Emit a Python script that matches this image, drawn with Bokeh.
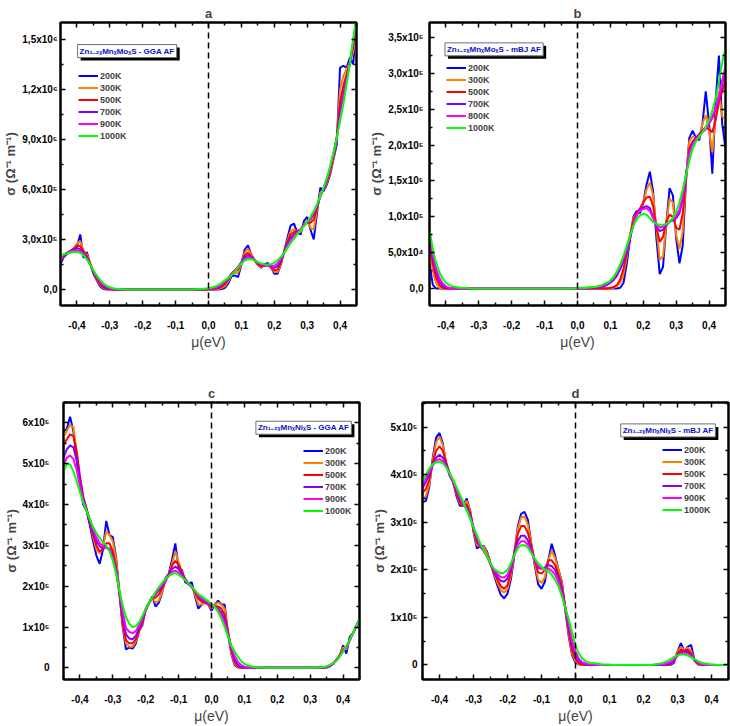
from bokeh.plotting import figure
from bokeh.layouts import column, row
from bokeh.models import (Range1d, FixedTicker, CustomJSTickFormatter, LinearAxis,
                          Span, Label, Legend, LegendItem, ColumnDataSource)
from bokeh.embed import file_html
from bokeh.resources import INLINE

# chemical potential grid (eV), shared by every curve
MU = [round(-0.45 + 0.01 * i, 2) for i in range(91)]

TEMPS_1 = ["200K", "300K", "500K", "700K", "900K", "1000K"]
TEMPS_2 = ["200K", "300K", "500K", "700K", "800K", "1000K"]
COLORS = ["#0000FF", "#FF8000", "#FF0000", "#8000FF", "#FF00FF", "#00FF00"]

UNIT = 1e5  # sigma values below are in units of 1e5 (Ohm m)^-1

# ---------------- Zn(1-2x)Mn(x)Mo(x)S, GGA AF ----------------
A_200 = [
    1.55, 1.95, 2.15, 2.25, 2.30, 2.55, 3.30, 1.90, 2.25, 1.55,
    0.95, 0.55, 0.20, 0.04, 0, 0, 0, 0, 0, 0,
    0, 0, 0, 0, 0, 0, 0, 0, 0, 0,
    0, 0, 0, 0, 0, 0, 0, 0, 0, 0,
    0, 0, 0, 0, 0, 0, 0, 0, 0, 0.03,
    0.10, 0.35, 0.80, 0.85, 0.75, 1.50, 2.40, 2.65, 2.10, 1.75,
    1.50, 1.30, 1.50, 1.60, 1.35, 0.95, 0.95, 1.50, 2.30, 3.10,
    3.85, 3.95, 3.40, 3.30, 4.10, 4.35, 3.60, 3.00, 4.60, 6.10,
    5.90, 6.30, 6.90, 7.80, 8.70, 13.3, 13.4, 13.3, 13.9, 13.5,
    16.0]
A_300 = [
    1.75, 2.05, 2.20, 2.30, 2.45, 2.75, 2.90, 2.30, 2.10, 1.60,
    1.05, 0.60, 0.28, 0.10, 0.03, 0.01, 0, 0, 0, 0,
    0, 0, 0, 0, 0, 0, 0, 0, 0, 0,
    0, 0, 0, 0, 0, 0, 0, 0, 0, 0,
    0, 0, 0, 0, 0, 0, 0, 0.01, 0.03, 0.10,
    0.20, 0.50, 0.90, 1.00, 1.00, 1.55, 2.20, 2.45, 2.10, 1.75,
    1.50, 1.35, 1.45, 1.50, 1.35, 1.05, 1.05, 1.55, 2.25, 2.95,
    3.50, 3.60, 3.45, 3.45, 3.90, 4.10, 3.70, 3.60, 4.80, 5.80,
    6.00, 6.40, 7.00, 7.90, 9.00, 12.0, 12.8, 13.2, 13.6, 14.2,
    16.1]
A_500 = [
    1.85, 2.05, 2.20, 2.32, 2.45, 2.62, 2.60, 2.30, 2.00, 1.55,
    1.05, 0.65, 0.33, 0.14, 0.05, 0.02, 0.01, 0, 0, 0,
    0, 0, 0, 0, 0, 0, 0, 0, 0, 0,
    0, 0, 0, 0, 0, 0, 0, 0, 0, 0,
    0, 0, 0, 0, 0, 0.01, 0.02, 0.04, 0.08, 0.17,
    0.32, 0.62, 0.95, 1.10, 1.20, 1.60, 2.05, 2.20, 2.00, 1.75,
    1.52, 1.40, 1.42, 1.45, 1.35, 1.15, 1.20, 1.62, 2.25, 2.85,
    3.30, 3.45, 3.50, 3.60, 3.85, 4.00, 4.00, 4.20, 4.90, 5.60,
    6.00, 6.50, 7.10, 8.00, 9.10, 11.2, 12.2, 12.9, 13.6, 14.6,
    16.1]
A_700 = [
    1.92, 2.08, 2.20, 2.30, 2.40, 2.48, 2.42, 2.20, 1.90, 1.52,
    1.10, 0.72, 0.42, 0.22, 0.10, 0.05, 0.02, 0.01, 0, 0,
    0, 0, 0, 0, 0, 0, 0, 0, 0, 0,
    0, 0, 0, 0, 0, 0, 0, 0, 0, 0,
    0, 0, 0.01, 0.01, 0.02, 0.03, 0.05, 0.09, 0.15, 0.27,
    0.42, 0.68, 0.95, 1.15, 1.35, 1.65, 1.92, 2.05, 1.95, 1.78,
    1.60, 1.48, 1.45, 1.45, 1.38, 1.30, 1.40, 1.75, 2.22, 2.72,
    3.10, 3.30, 3.45, 3.60, 3.85, 4.05, 4.20, 4.50, 5.00, 5.60,
    6.05, 6.60, 7.25, 8.10, 9.10, 10.6, 11.7, 12.6, 13.6, 14.8,
    16.2]
A_900 = [
    1.96, 2.10, 2.20, 2.28, 2.33, 2.36, 2.30, 2.12, 1.85, 1.50,
    1.12, 0.78, 0.50, 0.30, 0.16, 0.08, 0.04, 0.02, 0.01, 0.01,
    0, 0, 0, 0, 0, 0, 0, 0, 0, 0,
    0, 0, 0, 0, 0, 0, 0, 0, 0, 0.01,
    0.01, 0.01, 0.02, 0.03, 0.04, 0.05, 0.08, 0.13, 0.20, 0.33,
    0.48, 0.70, 0.92, 1.12, 1.35, 1.60, 1.82, 1.93, 1.88, 1.77,
    1.62, 1.52, 1.48, 1.46, 1.42, 1.42, 1.55, 1.85, 2.20, 2.60,
    2.95, 3.20, 3.40, 3.60, 3.83, 4.05, 4.28, 4.60, 5.05, 5.60,
    6.10, 6.65, 7.30, 8.15, 9.10, 10.3, 11.4, 12.5, 13.6, 14.9,
    16.2]
A_1000 = [
    2.00, 2.10, 2.17, 2.22, 2.25, 2.25, 2.20, 2.05, 1.80, 1.50,
    1.15, 0.85, 0.58, 0.38, 0.23, 0.14, 0.08, 0.05, 0.03, 0.02,
    0.01, 0.01, 0, 0, 0, 0, 0, 0, 0, 0,
    0, 0, 0, 0, 0, 0, 0, 0, 0.01, 0.01,
    0.01, 0.02, 0.03, 0.04, 0.06, 0.08, 0.12, 0.18, 0.27, 0.40,
    0.55, 0.70, 0.87, 1.07, 1.30, 1.55, 1.74, 1.83, 1.82, 1.75,
    1.65, 1.57, 1.52, 1.50, 1.52, 1.60, 1.75, 1.95, 2.20, 2.50,
    2.80, 3.05, 3.30, 3.55, 3.80, 4.05, 4.35, 4.70, 5.10, 5.60,
    6.10, 6.70, 7.40, 8.20, 9.10, 10.1, 11.1, 12.3, 13.6, 15.0,
    16.3]

# ---------------- Zn(1-2x)Mn(x)Mo(x)S, mBJ AF ----------------
B_200 = [
    0.35, 0.05, 0, 0, 0, 0, 0, 0, 0, 0,
    0, 0, 0, 0, 0, 0, 0, 0, 0, 0,
    0, 0, 0, 0, 0, 0, 0, 0, 0, 0,
    0, 0, 0, 0, 0, 0, 0, 0, 0, 0,
    0, 0, 0, 0, 0, 0, 0, 0, 0, 0,
    0, 0, 0, 0, 0, 0, 0, 0, 0.01, 0.08,
    0.35, 0.70, 1.00, 1.08, 1.05, 1.20, 1.45, 1.63, 1.35, 0.70,
    0.20, 0.30, 0.90, 1.40, 1.30, 0.70, 0.35, 0.60, 1.50, 2.10,
    2.20, 2.10, 2.07, 2.30, 2.75, 2.30, 1.60, 2.60, 3.25, 2.30,
    1.95]
B_300 = [
    0.60, 0.25, 0.07, 0.01, 0, 0, 0, 0, 0, 0,
    0, 0, 0, 0, 0, 0, 0, 0, 0, 0,
    0, 0, 0, 0, 0, 0, 0, 0, 0, 0,
    0, 0, 0, 0, 0, 0, 0, 0, 0, 0,
    0, 0, 0, 0, 0, 0, 0, 0, 0, 0,
    0, 0, 0, 0, 0, 0, 0.01, 0.03, 0.08, 0.20,
    0.45, 0.75, 0.98, 1.05, 1.08, 1.20, 1.38, 1.48, 1.30, 0.85,
    0.40, 0.45, 0.90, 1.25, 1.20, 0.75, 0.55, 0.80, 1.55, 2.05,
    2.12, 2.10, 2.10, 2.30, 2.42, 2.20, 1.90, 2.40, 2.75, 2.40,
    2.35]
B_500 = [
    0.65, 0.35, 0.15, 0.05, 0.01, 0, 0, 0, 0, 0,
    0, 0, 0, 0, 0, 0, 0, 0, 0, 0,
    0, 0, 0, 0, 0, 0, 0, 0, 0, 0,
    0, 0, 0, 0, 0, 0, 0, 0, 0, 0,
    0, 0, 0, 0, 0, 0, 0, 0, 0, 0,
    0, 0, 0, 0, 0, 0.01, 0.02, 0.05, 0.13, 0.28,
    0.50, 0.75, 0.95, 1.05, 1.12, 1.20, 1.27, 1.28, 1.15, 0.85,
    0.65, 0.72, 0.93, 1.03, 1.00, 0.85, 0.82, 1.05, 1.55, 1.95,
    2.05, 2.10, 2.15, 2.20, 2.25, 2.22, 2.18, 2.35, 2.60, 2.75,
    2.90]
B_700 = [
    0.70, 0.42, 0.22, 0.10, 0.04, 0.01, 0, 0, 0, 0,
    0, 0, 0, 0, 0, 0, 0, 0, 0, 0,
    0, 0, 0, 0, 0, 0, 0, 0, 0, 0,
    0, 0, 0, 0, 0, 0, 0, 0, 0, 0,
    0, 0, 0, 0, 0, 0, 0, 0, 0, 0.01,
    0.01, 0.01, 0.02, 0.03, 0.05, 0.08, 0.12, 0.18, 0.27, 0.38,
    0.52, 0.70, 0.90, 1.03, 1.10, 1.13, 1.15, 1.12, 1.00, 0.86,
    0.80, 0.82, 0.88, 0.93, 0.95, 0.98, 1.05, 1.25, 1.58, 1.90,
    2.02, 2.10, 2.15, 2.20, 2.23, 2.30, 2.38, 2.50, 2.65, 2.85,
    3.05]
B_800 = [
    0.75, 0.48, 0.28, 0.15, 0.07, 0.03, 0.01, 0, 0, 0,
    0, 0, 0, 0, 0, 0, 0, 0, 0, 0,
    0, 0, 0, 0, 0, 0, 0, 0, 0, 0,
    0, 0, 0, 0, 0, 0, 0, 0, 0, 0,
    0, 0, 0, 0, 0, 0, 0, 0.01, 0.01, 0.01,
    0.02, 0.02, 0.03, 0.05, 0.07, 0.10, 0.15, 0.22, 0.32, 0.43,
    0.56, 0.72, 0.90, 1.02, 1.09, 1.11, 1.12, 1.08, 0.98, 0.89,
    0.85, 0.86, 0.90, 0.94, 0.97, 1.02, 1.10, 1.30, 1.60, 1.88,
    2.00, 2.08, 2.13, 2.18, 2.22, 2.30, 2.40, 2.52, 2.68, 2.90,
    3.10]
B_1000 = [
    0.82, 0.55, 0.36, 0.23, 0.14, 0.08, 0.05, 0.03, 0.02, 0.01,
    0.01, 0.01, 0, 0, 0, 0, 0, 0, 0, 0,
    0, 0, 0, 0, 0, 0, 0, 0, 0, 0,
    0, 0, 0, 0, 0, 0, 0, 0, 0, 0,
    0, 0, 0, 0, 0, 0.01, 0.01, 0.01, 0.01, 0.02,
    0.02, 0.03, 0.04, 0.06, 0.08, 0.11, 0.16, 0.24, 0.34, 0.46,
    0.60, 0.74, 0.87, 0.97, 1.02, 1.04, 1.03, 0.98, 0.93, 0.90,
    0.89, 0.89, 0.90, 0.93, 0.98, 1.07, 1.20, 1.38, 1.58, 1.78,
    1.95, 2.05, 2.12, 2.18, 2.25, 2.35, 2.48, 2.65, 2.88, 3.15,
    3.35]

# ---------------- Zn(1-2x)Mn(x)Ni(x)S, GGA AF ----------------
C_200 = [
    5.80, 5.85, 6.15, 5.80, 5.10, 4.50, 4.00, 3.85, 3.50, 3.10,
    2.75, 2.55, 2.90, 3.60, 3.25, 3.20, 2.70, 1.85, 1.00, 0.45,
    0.50, 0.47, 0.60, 0.90, 1.05, 1.45, 1.60, 1.75, 1.50, 1.60,
    1.85, 2.20, 2.30, 2.65, 3.05, 2.45, 2.40, 2.10, 2.05, 2.10,
    1.75, 1.45, 1.55, 1.60, 1.55, 1.40, 1.55, 1.65, 1.55, 1.55,
    0.85, 0.35, 0.07, 0.01, 0, 0, 0, 0, 0, 0,
    0, 0, 0, 0, 0, 0, 0, 0, 0, 0,
    0, 0, 0, 0, 0, 0, 0, 0, 0, 0,
    0.01, 0.04, 0.10, 0.20, 0.30, 0.55, 0.35, 0.75, 0.85, 1.00,
    1.15]
C_300 = [
    5.65, 5.80, 5.95, 5.90, 5.30, 4.60, 4.15, 3.90, 3.60, 3.20,
    2.90, 2.80, 2.95, 3.35, 3.25, 3.10, 2.65, 1.85, 1.05, 0.60,
    0.52, 0.52, 0.65, 0.90, 1.10, 1.45, 1.60, 1.72, 1.60, 1.65,
    1.88, 2.15, 2.30, 2.55, 2.85, 2.60, 2.35, 2.15, 2.05, 2.00,
    1.80, 1.55, 1.55, 1.60, 1.55, 1.45, 1.55, 1.60, 1.55, 1.45,
    0.90, 0.38, 0.10, 0.02, 0, 0, 0, 0, 0, 0,
    0, 0, 0, 0, 0, 0, 0, 0, 0, 0,
    0, 0, 0, 0, 0, 0, 0, 0, 0, 0,
    0.01, 0.04, 0.10, 0.20, 0.32, 0.50, 0.45, 0.70, 0.85, 1.00,
    1.17]
C_500 = [
    5.45, 5.60, 5.72, 5.68, 5.30, 4.70, 4.20, 3.90, 3.60, 3.25,
    3.00, 2.85, 2.90, 3.05, 3.05, 2.85, 2.45, 1.80, 1.10, 0.68,
    0.60, 0.60, 0.70, 0.92, 1.12, 1.40, 1.58, 1.72, 1.72, 1.80,
    1.95, 2.12, 2.30, 2.50, 2.62, 2.52, 2.35, 2.18, 2.05, 1.98,
    1.85, 1.70, 1.62, 1.60, 1.57, 1.50, 1.52, 1.50, 1.45, 1.30,
    0.90, 0.45, 0.15, 0.04, 0.01, 0, 0, 0, 0, 0,
    0, 0, 0, 0, 0, 0, 0, 0, 0, 0,
    0, 0, 0, 0, 0, 0, 0, 0, 0, 0,
    0.02, 0.05, 0.11, 0.20, 0.30, 0.45, 0.50, 0.68, 0.85, 1.01,
    1.18]
C_700 = [
    5.15, 5.35, 5.45, 5.40, 5.10, 4.60, 4.15, 3.88, 3.62, 3.32,
    3.10, 2.98, 2.92, 2.95, 2.92, 2.72, 2.38, 1.85, 1.25, 0.82,
    0.72, 0.70, 0.78, 0.98, 1.18, 1.42, 1.58, 1.73, 1.80, 1.90,
    2.00, 2.13, 2.28, 2.42, 2.48, 2.42, 2.30, 2.18, 2.07, 1.98,
    1.87, 1.76, 1.68, 1.63, 1.58, 1.52, 1.50, 1.45, 1.35, 1.18,
    0.85, 0.50, 0.22, 0.08, 0.02, 0.01, 0, 0, 0, 0,
    0, 0, 0, 0, 0, 0, 0, 0, 0, 0,
    0, 0, 0, 0, 0, 0, 0, 0, 0, 0.01,
    0.02, 0.05, 0.11, 0.19, 0.29, 0.42, 0.52, 0.67, 0.84, 1.02,
    1.19]
C_900 = [
    4.95, 5.15, 5.20, 5.12, 4.85, 4.45, 4.10, 3.86, 3.63, 3.40,
    3.20, 3.06, 2.98, 2.95, 2.88, 2.68, 2.34, 1.87, 1.38, 0.98,
    0.88, 0.85, 0.90, 1.05, 1.22, 1.43, 1.59, 1.73, 1.83, 1.94,
    2.04, 2.15, 2.25, 2.35, 2.38, 2.34, 2.25, 2.16, 2.07, 1.98,
    1.88, 1.78, 1.71, 1.66, 1.60, 1.54, 1.50, 1.42, 1.28, 1.10,
    0.82, 0.53, 0.30, 0.15, 0.07, 0.03, 0.01, 0, 0, 0,
    0, 0, 0, 0, 0, 0, 0, 0, 0, 0,
    0, 0, 0, 0, 0, 0, 0, 0, 0.01, 0.01,
    0.03, 0.06, 0.11, 0.18, 0.28, 0.41, 0.53, 0.67, 0.84, 1.02,
    1.20]
C_1000 = [
    4.78, 5.00, 4.98, 4.82, 4.58, 4.30, 4.05, 3.85, 3.65, 3.45,
    3.30, 3.18, 3.08, 3.00, 2.85, 2.63, 2.30, 1.90, 1.53, 1.24,
    1.08, 1.00, 1.02, 1.12, 1.28, 1.45, 1.60, 1.73, 1.86, 1.98,
    2.08, 2.18, 2.25, 2.30, 2.32, 2.28, 2.22, 2.15, 2.07, 1.99,
    1.90, 1.81, 1.75, 1.69, 1.63, 1.57, 1.50, 1.37, 1.20, 1.00,
    0.77, 0.55, 0.40, 0.27, 0.17, 0.10, 0.06, 0.04, 0.02, 0.01,
    0.01, 0, 0, 0, 0, 0, 0, 0, 0, 0,
    0, 0, 0, 0, 0, 0, 0, 0.01, 0.01, 0.02,
    0.04, 0.07, 0.12, 0.18, 0.28, 0.40, 0.53, 0.68, 0.85, 1.02,
    1.20]

# ---------------- Zn(1-2x)Mn(x)Ni(x)S, mBJ AF ----------------
D_200 = [
    3.42, 3.45, 3.75, 4.35, 4.78, 4.88, 4.65, 4.20, 3.98, 3.85,
    3.55, 3.35, 3.35, 3.50, 3.25, 2.80, 2.45, 2.50, 2.50, 2.38,
    2.15, 1.90, 1.68, 1.48, 1.40, 1.50, 1.80, 2.30, 2.90, 3.18,
    3.22, 3.05, 2.55, 2.10, 1.70, 1.60, 1.75, 2.20, 2.55, 2.30,
    2.00, 1.75, 1.15, 0.60, 0.20, 0.05, 0.01, 0, 0, 0,
    0, 0, 0, 0, 0, 0, 0, 0, 0, 0,
    0, 0, 0, 0, 0, 0, 0, 0, 0, 0,
    0, 0, 0, 0, 0.05, 0.28, 0.46, 0.28, 0.38, 0.42,
    0.10, 0.01, 0, 0, 0, 0, 0, 0, 0, 0,
    0]
D_300 = [
    3.50, 3.55, 3.80, 4.30, 4.68, 4.80, 4.62, 4.25, 4.00, 3.85,
    3.60, 3.40, 3.35, 3.45, 3.25, 2.85, 2.52, 2.50, 2.48, 2.35,
    2.15, 1.93, 1.74, 1.58, 1.52, 1.60, 1.88, 2.35, 2.85, 3.10,
    3.12, 2.95, 2.55, 2.15, 1.80, 1.72, 1.85, 2.20, 2.40, 2.25,
    2.00, 1.72, 1.20, 0.65, 0.24, 0.08, 0.02, 0, 0, 0,
    0, 0, 0, 0, 0, 0, 0, 0, 0, 0,
    0, 0, 0, 0, 0, 0, 0, 0, 0, 0,
    0, 0, 0, 0.01, 0.08, 0.27, 0.38, 0.30, 0.36, 0.30,
    0.08, 0.01, 0, 0, 0, 0, 0, 0, 0, 0,
    0]
D_500 = [
    3.62, 3.70, 3.90, 4.25, 4.50, 4.60, 4.50, 4.25, 4.02, 3.85,
    3.62, 3.42, 3.35, 3.38, 3.20, 2.88, 2.58, 2.48, 2.42, 2.30,
    2.12, 1.95, 1.80, 1.66, 1.60, 1.68, 1.95, 2.38, 2.75, 2.92,
    2.92, 2.78, 2.50, 2.20, 1.95, 1.92, 2.00, 2.20, 2.20, 2.10,
    1.90, 1.65, 1.22, 0.72, 0.30, 0.12, 0.04, 0.01, 0, 0,
    0, 0, 0, 0, 0, 0, 0, 0, 0, 0,
    0, 0, 0, 0, 0, 0, 0, 0, 0, 0,
    0, 0, 0, 0.02, 0.10, 0.24, 0.32, 0.30, 0.32, 0.24,
    0.10, 0.03, 0.01, 0, 0, 0, 0, 0, 0, 0,
    0]
D_700 = [
    3.72, 3.85, 4.00, 4.20, 4.36, 4.42, 4.36, 4.20, 4.02, 3.86,
    3.66, 3.48, 3.37, 3.32, 3.15, 2.90, 2.65, 2.50, 2.40, 2.28,
    2.12, 1.98, 1.86, 1.77, 1.75, 1.82, 2.02, 2.35, 2.60, 2.72,
    2.72, 2.62, 2.42, 2.22, 2.05, 2.02, 2.05, 2.10, 2.08, 2.00,
    1.82, 1.58, 1.22, 0.80, 0.42, 0.20, 0.08, 0.03, 0.01, 0,
    0, 0, 0, 0, 0, 0, 0, 0, 0, 0,
    0, 0, 0, 0, 0, 0, 0, 0, 0, 0,
    0, 0, 0.01, 0.03, 0.10, 0.20, 0.27, 0.27, 0.27, 0.20,
    0.10, 0.04, 0.01, 0, 0, 0, 0, 0, 0, 0,
    0]
D_900 = [
    3.78, 3.92, 4.06, 4.20, 4.30, 4.33, 4.28, 4.17, 4.02, 3.87,
    3.70, 3.52, 3.38, 3.28, 3.10, 2.90, 2.68, 2.52, 2.40, 2.28,
    2.13, 2.00, 1.92, 1.85, 1.84, 1.90, 2.07, 2.32, 2.52, 2.60,
    2.60, 2.53, 2.38, 2.22, 2.08, 2.04, 2.03, 2.03, 1.98, 1.90,
    1.74, 1.50, 1.22, 0.88, 0.52, 0.28, 0.13, 0.06, 0.03, 0.01,
    0.01, 0, 0, 0, 0, 0, 0, 0, 0, 0,
    0, 0, 0, 0, 0, 0, 0, 0, 0, 0.01,
    0.01, 0.02, 0.04, 0.07, 0.12, 0.19, 0.24, 0.25, 0.24, 0.19,
    0.12, 0.06, 0.02, 0.01, 0, 0, 0, 0, 0, 0,
    0]
D_1000 = [
    3.84, 4.01, 4.13, 4.22, 4.26, 4.27, 4.24, 4.15, 4.03, 3.90,
    3.74, 3.58, 3.42, 3.25, 3.08, 2.90, 2.73, 2.56, 2.42, 2.28,
    2.14, 2.03, 1.97, 1.93, 1.94, 2.00, 2.14, 2.31, 2.45, 2.52,
    2.52, 2.47, 2.35, 2.24, 2.14, 2.07, 2.00, 1.97, 1.90, 1.79,
    1.65, 1.44, 1.20, 0.96, 0.68, 0.40, 0.24, 0.14, 0.08, 0.05,
    0.04, 0.03, 0.02, 0.01, 0.01, 0.01, 0, 0, 0, 0,
    0, 0, 0, 0, 0, 0, 0, 0, 0.01, 0.02,
    0.03, 0.05, 0.08, 0.12, 0.17, 0.20, 0.22, 0.22, 0.20, 0.16,
    0.12, 0.08, 0.05, 0.03, 0.02, 0.01, 0.01, 0, 0, 0,
    0]

# axis ticks and labels
X_TICKS = [-0.4, -0.3, -0.2, -0.1, 0.0, 0.1, 0.2, 0.3, 0.4]
X_MINOR = [-0.45, -0.35, -0.25, -0.15, -0.05, 0.05, 0.15, 0.25, 0.35, 0.45]

A_YTICKS = [0, 300000, 600000, 900000, 1200000, 1500000]
A_YLABELS = ["0,0", "3,0x10\u2075", "6,0x10\u2075", "9,0x10\u2075", "1,2x10\u2076", "1,5x10\u2076"]
B_YTICKS = [0, 50000, 100000, 150000, 200000, 250000, 300000, 350000]
B_YLABELS = ["0,0", "5,0x10\u2074", "1,0x10\u2075", "1,5x10\u2075", "2,0x10\u2075",
             "2,5x10\u2075", "3,0x10\u2075", "3,5x10\u2075"]
C_YTICKS = [0, 100000, 200000, 300000, 400000, 500000, 600000]
C_YLABELS = ["0", "1x10\u2075", "2x10\u2075", "3x10\u2075", "4x10\u2075", "5x10\u2075", "6x10\u2075"]
D_YTICKS = [0, 100000, 200000, 300000, 400000, 500000]
D_YLABELS = ["0", "1x10\u2075", "2x10\u2075", "3x10\u2075", "4x10\u2075", "5x10\u2075"]

FONT = "Liberation Sans"

for arr in (A_200, A_300, A_500, A_700, A_900, A_1000, B_200, B_300, B_500, B_700, B_800,
            B_1000, C_200, C_300, C_500, C_700, C_900, C_1000, D_200, D_300, D_500, D_700,
            D_900, D_1000):
    assert len(arr) == len(MU), len(arr)


def minor_between(ticks, lo, hi):
    step = ticks[1] - ticks[0]
    out = []
    v = ticks[0] - step / 2
    while v <= hi:
        if v >= lo:
            out.append(v)
        v += step
    return out


def style_axis(ax, show_labels=True):
    ax.axis_line_color = "black"
    ax.axis_line_width = 2
    ax.major_tick_in = 5
    ax.major_tick_out = 0
    ax.minor_tick_in = 3
    ax.minor_tick_out = 0
    ax.major_tick_line_width = 1.5
    ax.minor_tick_line_width = 1.5
    ax.major_tick_line_color = "black"
    ax.minor_tick_line_color = "black"
    if show_labels:
        ax.major_label_text_font = FONT
        ax.major_label_text_font_style = "bold"
        ax.major_label_text_font_size = "10px"
        ax.major_label_text_color = "black"
    else:
        # mirrored tick marks only: no labels are drawn on this side
        ax.formatter = CustomJSTickFormatter(code="return '';")
        ax.major_label_text_color = None
        ax.major_label_text_font_size = "1px"
        ax.major_label_standoff = 0


def build_panel(letter, curves, temps, ylim, yticks, ylabels, borders, ylab_std, ytick_std,
                legend_xy, box_text, box_xy):
    left, right, top, bottom = borders
    p = figure(width=365, height=363, output_backend="svg", toolbar_location=None,
               x_range=Range1d(-0.45, 0.45), y_range=Range1d(*ylim),
               min_border_left=left, min_border_right=right,
               min_border_top=top, min_border_bottom=bottom)
    p.title.text = letter
    p.title.align = "center"
    p.title.text_font = FONT
    p.title.text_font_size = "13px"
    p.title.text_font_style = "bold"
    p.title.standoff = 4
    p.xgrid.visible = False
    p.ygrid.visible = False
    p.outline_line_color = "black"
    p.outline_line_width = 2
    p.background_fill_color = "white"
    p.border_fill_color = "white"

    xt = FixedTicker(ticks=X_TICKS, minor_ticks=X_MINOR)
    yminor = minor_between(yticks, ylim[0], ylim[1])
    yt = FixedTicker(ticks=yticks, minor_ticks=yminor)

    xfmt = CustomJSTickFormatter(code="return tick.toFixed(1).replace('.', ',');")
    yfmt = CustomJSTickFormatter(args=dict(t=yticks, l=ylabels),
                                 code="const i = t.indexOf(tick); return i >= 0 ? l[i] : '';")

    xa = p.xaxis[0]
    xa.ticker = xt
    xa.formatter = xfmt
    style_axis(xa)
    xa.major_label_standoff = 15
    xa.axis_label = "\u03bc(eV)"
    xa.axis_label_text_font = FONT
    xa.axis_label_text_font_size = "14px"
    xa.axis_label_text_font_style = "normal"
    xa.axis_label_standoff = 2

    ya = p.yaxis[0]
    ya.ticker = yt
    ya.formatter = yfmt
    style_axis(ya)
    ya.major_label_standoff = ytick_std
    ya.axis_label = "\u03c3 (\u03a9\u207b\u00b9 m\u207b\u00b9)"
    ya.axis_label_text_font = FONT
    ya.axis_label_text_font_size = "13px"
    ya.axis_label_text_font_style = "bold"
    ya.axis_label_standoff = ylab_std

    top_axis = LinearAxis(ticker=xt)
    style_axis(top_axis, show_labels=False)
    p.add_layout(top_axis, "above")
    right_axis = LinearAxis(ticker=yt)
    style_axis(right_axis, show_labels=False)
    p.add_layout(right_axis, "right")

    p.add_layout(Span(location=0, dimension="height", line_color="black",
                      line_width=1.5, line_dash="6 4"))

    items = []
    for vals, temp, color in zip(curves, temps, COLORS):
        src = ColumnDataSource(dict(mu=MU, sigma=[v * UNIT for v in vals]))
        r = p.line("mu", "sigma", source=src, line_color=color, line_width=2)
        items.append(LegendItem(label=temp, renderers=[r]))

    legend = Legend(items=items, location=legend_xy, padding=0, margin=0, spacing=1,
                    glyph_width=20, glyph_height=11, label_height=11, label_standoff=2,
                    label_text_font=FONT, label_text_font_style="bold",
                    label_text_font_size="9px", background_fill_alpha=0,
                    border_line_alpha=0)
    p.add_layout(legend)

    bx, by = box_xy
    shadow = Label(x=bx, y=by, text=box_text, anchor="top_left", x_offset=3, y_offset=-3,
                   text_font=FONT, text_font_style="bold", text_font_size="8px",
                   text_color="black", background_fill_color="black", padding=2)
    box = Label(x=bx, y=by, text=box_text, anchor="top_left",
                text_font=FONT, text_font_style="bold", text_font_size="8px",
                text_color="#1010C0", background_fill_color="white",
                border_line_color="#707070", border_line_width=1, padding=2)
    p.add_layout(shadow)
    p.add_layout(box)
    return p


SUB = "\u2081\u208b\u2082\u2093"
X_SUB = "\u2093"

pa = build_panel("a", [A_200, A_300, A_500, A_700, A_900, A_1000], TEMPS_1,
                 (-0.955e5, 1.6e6), A_YTICKS, A_YLABELS, (59, 9, 21, 58), 1, 3,
                 (18, 164), "Zn" + SUB + "Mn" + X_SUB + "Mo" + X_SUB + "S - GGA AF",
                 (-0.398, 1.468e6))
pb = build_panel("b", [B_200, B_300, B_500, B_700, B_800, B_1000], TEMPS_2,
                 (-2.37e4, 3.71e5), B_YTICKS, B_YLABELS, (58, 5, 22, 57), 1, 6,
                 (17, 172), "Zn" + SUB + "Mn" + X_SUB + "Mo" + X_SUB + "S - mBJ AF",
                 (-0.403, 3.426e5))
pc = build_panel("c", [C_200, C_300, C_500, C_700, C_900, C_1000], TEMPS_1,
                 (-2.85e4, 6.5e5), C_YTICKS, C_YLABELS, (53, 6, 38, 47), 1, 14,
                 (240, 163), "Zn" + SUB + "Mn" + X_SUB + "Ni" + X_SUB + "S - GGA AF",
                 (0.135, 6.04e5))
pd_ = build_panel("d", [D_200, D_300, D_500, D_700, D_900, D_1000], TEMPS_1,
                  (-3.06e4, 5.52e5), D_YTICKS, D_YLABELS, (57, 2, 39, 44), 1, 5,
                  (240, 164), "Zn" + SUB + "Mn" + X_SUB + "Ni" + X_SUB + "S - mBJ AF",
                  (0.133, 5.07e5))

layout = column(row(pa, pb), row(pc, pd_))

with open("out.html", "w") as f:
    f.write(file_html(layout, INLINE))
